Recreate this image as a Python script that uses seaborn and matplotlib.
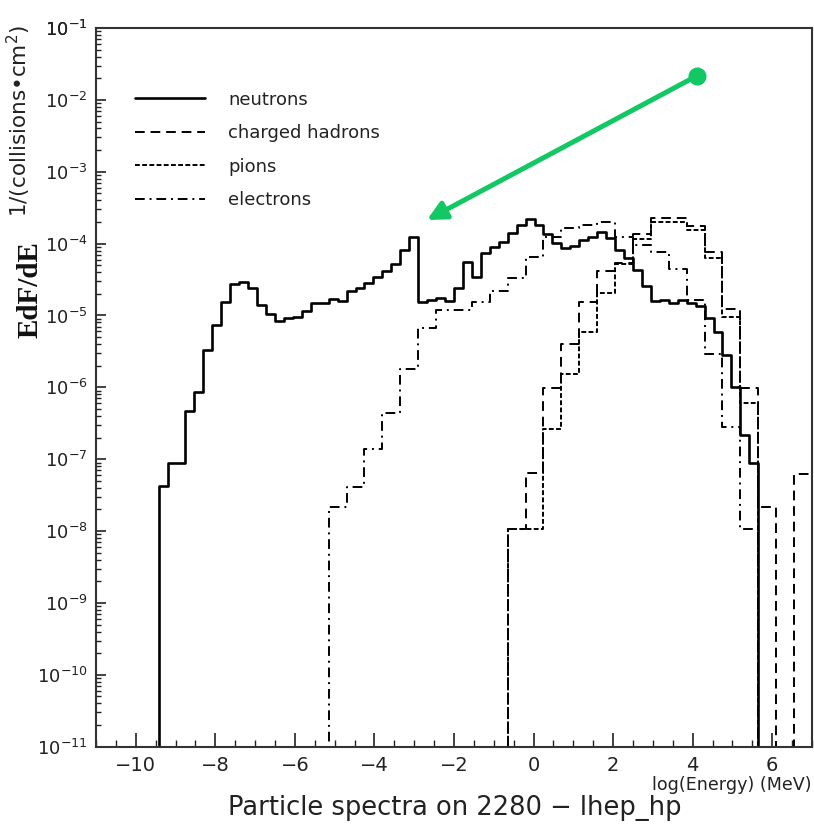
import numpy as np
import pandas as pd
import matplotlib
matplotlib.use("Agg")
import matplotlib.pyplot as plt
import seaborn as sns
from matplotlib.ticker import MultipleLocator, FixedLocator, NullFormatter, FuncFormatter
from matplotlib.lines import Line2D

sns.set_theme(style="white")
plt.rcParams['font.family'] = ['DejaVu Sans']

# ---------------- data ----------------
x_range = (-11.0, 7.0)
n_bins_neutron = 80
n_bins_other = 40
y_decades = list(range(-11, 0))

neutrons = [0.0] * 7 + [
    4.24e-8, 8.77e-8, 8.77e-8, 4.65e-7, 8.53e-7, 3.31e-6, 7.45e-6, 1.52e-5,
    2.72e-5, 2.95e-5, 2.39e-5, 1.40e-5, 1.05e-5, 8.38e-6, 9.14e-6, 9.62e-6,
    1.15e-5, 1.48e-5, 1.48e-5, 1.69e-5, 1.61e-5, 2.21e-5, 2.39e-5, 2.81e-5,
    3.47e-5, 4.16e-5, 5.20e-5, 8.15e-5, 1.25e-4, 1.52e-5, 1.64e-5, 1.73e-5,
    1.59e-5, 2.39e-5, 5.50e-5, 3.40e-5, 7.48e-5, 9.06e-5, 1.06e-4, 1.39e-4,
    1.82e-4, 2.20e-4, 1.82e-4, 1.35e-4, 1.01e-4, 8.77e-5, 9.35e-5, 1.12e-4,
    1.25e-4, 1.44e-4, 1.20e-4, 8.15e-5, 6.25e-5, 4.30e-5, 2.57e-5, 1.59e-5,
    1.64e-5, 1.48e-5, 1.64e-5, 1.48e-5, 1.36e-5, 9.14e-6, 5.94e-6, 2.82e-6,
    1.00e-6, 2.17e-7, 8.77e-8,
] + [0.0] * 6

electrons = [0.0] * 13 + [
    2.18e-8, 4.15e-8, 1.37e-7, 4.44e-7, 1.78e-6, 6.64e-6, 1.19e-5, 1.19e-5,
    1.54e-5, 2.16e-5, 3.37e-5, 6.58e-5, 1.25e-4, 1.66e-4, 1.82e-4, 1.97e-4,
    1.25e-4, 9.57e-5, 7.71e-5, 4.44e-5, 1.64e-5, 2.91e-6, 2.84e-7, 1.06e-8,
] + [0.0] * 3

charged_hadrons = [0.0] * 23 + [
    1.06e-8, 6.37e-8, 9.70e-7, 4.01e-6, 1.52e-5, 4.20e-5, 5.37e-5, 1.35e-4,
    2.25e-4, 2.25e-4, 1.77e-4, 7.71e-5, 1.23e-5, 9.70e-7, 2.18e-8, 0.0,
    6.22e-8,
]

pions = [0.0] * 23 + [
    1.06e-8, 1.06e-8, 2.61e-7, 1.52e-6, 5.94e-6, 2.04e-5, 5.20e-5, 1.15e-4,
    1.98e-4, 1.98e-4, 1.55e-4, 6.25e-5, 9.44e-6, 6.11e-7,
] + [0.0] * 3

labels = ["neutrons", "charged hadrons", "pions", "electrons"]

# ---------------- figure ----------------
W, H = 814, 826
fig = plt.figure(figsize=(W / 100, H / 100), dpi=100)
ax_l, ax_r, ax_t, ax_b = 96, 812, 28, 746.7
ax = fig.add_axes([ax_l / W, 1 - ax_b / H, (ax_r - ax_l) / W, (ax_b - ax_t) / H])

def hist_frame(values, nbins):
    edges = np.linspace(x_range[0], x_range[1], nbins + 1)
    centers = 0.5 * (edges[:-1] + edges[1:])
    return pd.DataFrame({"energy": centers, "w": values})

styles = {
    "neutrons": dict(linestyle="-", linewidth=1.9),
    "charged hadrons": dict(linestyle=(0, (5, 3)), linewidth=1.4),
    "pions": dict(linestyle=(0, (2.5, 1.2)), linewidth=1.4),
    "electrons": dict(linestyle=(0, (5, 2.5, 1, 2.5)), linewidth=1.4),
}
series = {
    "neutrons": (neutrons, n_bins_neutron),
    "charged hadrons": (charged_hadrons, n_bins_other),
    "pions": (pions, n_bins_other),
    "electrons": (electrons, n_bins_other),
}
for name, (vals, nb) in series.items():
    df = hist_frame(vals, nb)
    sns.histplot(data=df, x="energy", weights="w", bins=nb, binrange=x_range,
                 element="step", fill=False, color="black", ax=ax, **styles[name])

ax.set_yscale("log")
ax.set_xlim(*x_range)
ax.set_ylim(1e-11, 1e-1)
ax.set_xlabel("")
ax.set_ylabel("")

# ticks
tick_color = "#222222"
major_y = [10.0 ** e for e in y_decades]
minor_y = [m * 10.0 ** e for e in y_decades for m in range(2, 10)]
ax.xaxis.set_major_locator(MultipleLocator(2))
ax.xaxis.set_minor_locator(MultipleLocator(0.5))
ax.yaxis.set_major_locator(FixedLocator(major_y + [1e-1]))
ax.yaxis.set_minor_locator(FixedLocator(minor_y))
ax.yaxis.set_minor_formatter(NullFormatter())
ax.yaxis.set_major_formatter(FuncFormatter(lambda v, p: r"$10^{%d}$" % int(round(np.log10(v)))))
ax.xaxis.set_major_formatter(FuncFormatter(lambda v, p: ("\u2212%d" % abs(v)) if v < 0 else "%d" % v))
ax.tick_params(axis="x", which="major", direction="in", length=10, width=1.2,
               top=False, bottom=True, labelsize=14, pad=7, colors=tick_color)
ax.tick_params(axis="x", which="minor", direction="in", length=5, width=1.0,
               top=False, bottom=True, colors=tick_color)
ax.tick_params(axis="y", which="major", direction="in", length=7, width=1.2,
               left=True, right=False, labelsize=13, pad=6, colors=tick_color)
ax.tick_params(axis="y", which="minor", direction="in", length=3.5, width=1.0,
               left=True, right=False, colors=tick_color)
for s in ax.spines.values():
    s.set_visible(True)
    s.set_color("#333333")
    s.set_linewidth(1.5)
ax.set_facecolor("white")

# legend
handles = [Line2D([], [], color="black", **styles[n]) for n in labels]
leg = ax.legend(handles, labels, loc="upper left", bbox_to_anchor=(0.054, 0.913),
                frameon=False, fontsize=13, handlelength=3.9, handletextpad=1.28,
                labelspacing=0.86, borderpad=0, borderaxespad=0)
for t in leg.get_texts():
    t.set_color(tick_color)

# annotation arrow
green = "#12c864"
ax.annotate("", xy=(-2.68, 2.13e-4), xytext=(4.1, 0.0215),
            arrowprops=dict(arrowstyle="-|>", color=green, lw=3.6, mutation_scale=28,
                            shrinkA=0, shrinkB=0))
ax.plot([4.1], [0.0215], "o", color=green, ms=12, zorder=5)

# texts
fig.text(30 / W, 1 - 290 / H, "EdF/dE", rotation=90, ha="center", va="center",
         fontsize=21, fontweight="bold", family=["Liberation Serif", "DejaVu Serif"], color="#111111")
fig.text(19 / W, 1 - 121 / H, "1/(collisions\u2022cm$^2$)", rotation=90, ha="center", va="center",
         fontsize=15.5, color=tick_color)
fig.text(812 / W, 1 - 785 / H, "log(Energy) (MeV)", ha="right", va="center",
         fontsize=12.6, color=tick_color)
fig.text(455 / W, 1 - 808 / H, "Particle spectra on 2280 \u2212 lhep_hp", ha="center", va="center",
         fontsize=18.5, color=tick_color)

fig.savefig("out.png", dpi=100, facecolor="white")
